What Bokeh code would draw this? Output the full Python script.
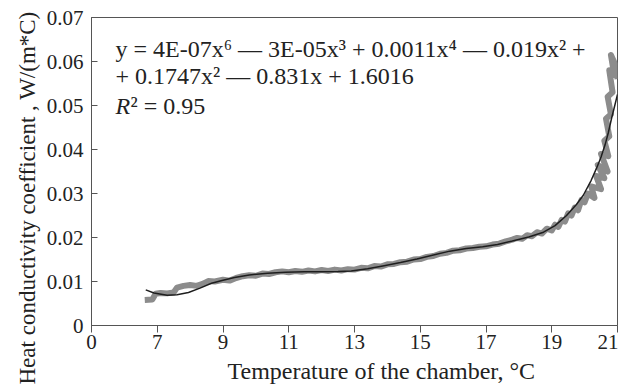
from bokeh.plotting import figure
from bokeh.models import Range1d, FixedTicker, Label, Title
from bokeh.embed import file_html
from bokeh.resources import INLINE

# ---- data ----
meas_t = [6.62, 6.85, 6.95, 7.1, 7.3, 7.5, 7.6, 7.8, 8.0, 8.2, 8.4, 8.55, 8.75, 9.0, 9.2, 9.4,
          9.6, 9.8, 10.0, 10.2, 10.4, 10.6, 10.8, 11.0, 11.2, 11.4, 11.6, 11.8, 12.0, 12.2, 12.4,
          12.6, 12.8, 13.0, 13.2, 13.4, 13.6, 13.8, 14.0, 14.2, 14.4, 14.6, 14.8, 15.0, 15.2, 15.4,
          15.6, 15.8, 16.0, 16.2, 16.4, 16.6, 16.8, 17.0, 17.2, 17.4, 17.6, 17.8, 17.95, 18.1,
          18.25, 18.4, 18.55, 18.7, 18.85, 19.0, 19.1, 19.2, 19.3, 19.4, 19.5, 19.6, 19.7, 19.8,
          19.9, 20.0, 20.1, 20.3, 20.2, 20.5, 20.35, 20.6, 20.4, 20.7, 20.5, 20.72, 20.6, 20.75,
          20.65, 20.8, 20.7, 20.85, 20.75, 20.9, 20.8, 20.95, 21.0]
meas_v = [0.0058, 0.0059, 0.0072, 0.0074, 0.0073, 0.0075, 0.0086, 0.0090, 0.0092, 0.0090, 0.0095,
          0.0101, 0.0100, 0.0104, 0.0102, 0.0108, 0.0112, 0.0114, 0.0113, 0.0118, 0.0117, 0.0121,
          0.0123, 0.0121, 0.0124, 0.0122, 0.0125, 0.0123, 0.0126, 0.0124, 0.0127, 0.0125, 0.0128,
          0.0127, 0.0131, 0.0130, 0.0135, 0.0134, 0.0139, 0.0140, 0.0144, 0.0145, 0.0150, 0.0151,
          0.0156, 0.0158, 0.0163, 0.0165, 0.0170, 0.0171, 0.0175, 0.0176, 0.0179, 0.0180, 0.0184,
          0.0186, 0.0191, 0.0195, 0.0199, 0.0197, 0.0205, 0.0203, 0.0212, 0.0209, 0.0220, 0.0216,
          0.0229, 0.0224, 0.0240, 0.0236, 0.0255, 0.0250, 0.0268, 0.0262, 0.0285, 0.0280, 0.0300,
          0.0290, 0.0316, 0.0310, 0.0340, 0.0335, 0.0365, 0.0350, 0.0390, 0.0385, 0.0420, 0.0430,
          0.0470, 0.0480, 0.0520, 0.0530, 0.0580, 0.0570, 0.0615, 0.0590, 0.0560]

fit_t = [6.65, 6.9, 7.3, 7.6, 7.95, 8.3, 8.65, 9.0, 9.35, 9.8, 10.36, 10.9, 11.47, 12.0, 12.5,
         12.9, 13.4, 13.9, 14.4, 14.9, 15.4, 15.9, 16.4, 16.9, 17.35, 17.8, 18.3, 18.75, 19.1,
         19.45, 19.75, 19.96, 20.2, 20.36, 20.5, 20.62, 20.72, 20.82, 20.9, 21.0]
fit_v = [0.0081, 0.0074, 0.0069, 0.0070, 0.0075, 0.0085, 0.0096, 0.0103, 0.0109, 0.0115, 0.0119,
         0.0121, 0.0122, 0.0122, 0.0123, 0.0124, 0.0129, 0.0136, 0.0143, 0.0151, 0.0160, 0.0169,
         0.0175, 0.0179, 0.0184, 0.0192, 0.0201, 0.0212, 0.0227, 0.0250, 0.0275, 0.0296, 0.0330,
         0.0357, 0.0383, 0.0410, 0.0438, 0.0471, 0.0495, 0.0525]

x_ticks = [5, 7, 9, 11, 13, 15, 17, 19, 21]
x_tick_labels = ["0", "7", "9", "11", "13", "15", "17", "19", "21"]
y_ticks = [0.0, 0.01, 0.02, 0.03, 0.04, 0.05, 0.06, 0.07]
y_tick_labels = ["0", "0.01", "0.02", "0.03", "0.04", "0.05", "0.06", "0.07"]

eq_line1 = "y = 4E-07x\u2076 \u2014 3E-05x\u00b3 + 0.0011x\u2074 \u2014 0.019x\u00b2 +"
eq_line2 = "+ 0.1747x\u00b2 \u2014 0.831x + 1.6016"
r2_text = "\u00b2 = 0.95"
x_title = "Temperature of the chamber, \u00b0C"
y_title = "Heat conductivity coefficient , W/(m*C)"

FONT = "Liberation Serif"
TXT = "#222222"
AX = "#555555"

p = figure(frame_width=526, frame_height=308, output_backend="svg", toolbar_location=None,
           x_range=Range1d(5, 21), y_range=Range1d(0, 0.07),
           min_border_left=91, min_border_right=1, min_border_top=17, min_border_bottom=60)
p.grid.visible = False
p.outline_line_color = AX
p.outline_line_width = 1
p.background_fill_color = "white"
p.border_fill_color = "white"

p.line(meas_t, meas_v, line_color="#8c8c8c", line_width=6, line_join="round")
p.line(fit_t, fit_v, line_color="#1e1e1e", line_width=1.5)

xa = p.xaxis[0]
xa.ticker = FixedTicker(ticks=x_ticks)
xa.major_label_overrides = {t: l for t, l in zip(x_ticks, x_tick_labels)}
xa.major_tick_in = 0
xa.major_tick_out = 7
xa.minor_tick_line_color = None
xa.axis_line_color = AX
xa.major_tick_line_color = AX
xa.major_label_text_font = FONT
xa.major_label_text_font_size = "21px"
xa.major_label_text_color = TXT
xa.major_label_standoff = 2

ya = p.yaxis[0]
ya.ticker = FixedTicker(ticks=y_ticks)
ya.major_label_overrides = {t: l for t, l in zip(y_ticks, y_tick_labels)}
ya.major_tick_in = 6
ya.major_tick_out = 0
ya.minor_tick_line_color = None
ya.axis_line_color = AX
ya.major_tick_line_color = AX
ya.major_label_text_font = FONT
ya.major_label_text_font_size = "21px"
ya.major_label_text_color = TXT
ya.major_label_standoff = 8

# axis titles, placed as in the reference
p.add_layout(Title(text=y_title, align="left", offset=-59, vertical_align="top",
                   text_font=FONT, text_font_size="23px", text_font_style="normal",
                   text_color=TXT, standoff=4), "left")
p.add_layout(Title(text=x_title, align="left", offset=136,
                   text_font=FONT, text_font_size="24px", text_font_style="normal",
                   text_color=TXT, standoff=8), "below")

# equation texts
p.add_layout(Label(x=24, y=277, x_units="screen", y_units="screen", text=eq_line1,
                   text_align="left", text_baseline="middle",
                   text_font=FONT, text_font_size="24px", text_color=TXT))
p.add_layout(Label(x=24, y=250, x_units="screen", y_units="screen", text=eq_line2,
                   text_align="left", text_baseline="middle",
                   text_font=FONT, text_font_size="24px", text_color=TXT))
p.add_layout(Label(x=24, y=220, x_units="screen", y_units="screen", text="R",
                   text_align="left", text_baseline="middle", text_font_style="italic",
                   text_font=FONT, text_font_size="24px", text_color=TXT))
p.add_layout(Label(x=39, y=220, x_units="screen", y_units="screen", text=r2_text,
                   text_align="left", text_baseline="middle",
                   text_font=FONT, text_font_size="24px", text_color=TXT))

open("out.html", "w").write(file_html(p, INLINE))
